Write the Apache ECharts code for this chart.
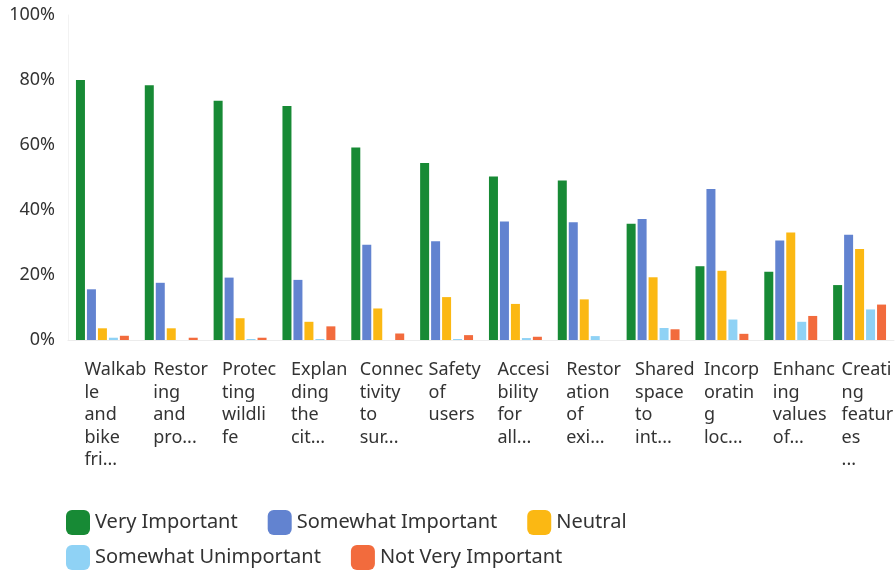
<!DOCTYPE html>
<html>
<head>
<meta charset="utf-8">
<script src="https://cdn.jsdelivr.net/npm/echarts@6/dist/echarts.min.js"></script>
<style>html,body{margin:0;padding:0;background:#fff;}#c{width:896px;height:570px;}</style>
</head>
<body>
<div id="c"></div>
<script>
var categories = [
  "Walkab\nle\nand\nbike\nfri...",
  "Restor\ning\nand\npro...",
  "Protec\nting\nwildli\nfe",
  "Explan\nding\nthe\ncit...",
  "Connec\ntivity\nto\nsur...",
  "Safety\nof\nusers",
  "Accesi\nbility\nfor\nall...",
  "Restor\nation\nof\nexi...",
  "Shared\nspace\nto\nint...",
  "Incorp\noratin\ng\nloc...",
  "Enhanc\ning\nvalues\nof...",
  "Creati\nng\nfeatur\nes\n..."
];
var seriesNames = ["Very Important", "Somewhat Important", "Neutral", "Somewhat Unimportant", "Not Very Important"];
var veryImportant       = [80, 78.4, 73.6, 72, 59.2, 54.5, 50.3, 49.1, 35.8, 22.7, 21, 16.9];
var somewhatImportant   = [15.6, 17.6, 19.2, 18.5, 29.3, 30.4, 36.5, 36.2, 37.2, 46.5, 30.6, 32.4];
var neutral             = [3.6, 3.6, 6.7, 5.6, 9.7, 13.2, 11.1, 12.5, 19.3, 21.3, 33.1, 28];
var somewhatUnimportant = [0.7, 0, 0.3, 0.3, 0, 0.3, 0.6, 1.2, 3.7, 6.3, 5.6, 9.4];
var notVeryImportant    = [1.3, 0.7, 0.7, 4.2, 2, 1.5, 1, 0, 3.3, 1.9, 7.4, 10.9];
var colors = ["#178a35", "#6283d0", "#fbb813", "#8fd2f5", "#f26b3d"];

var allData = [veryImportant, somewhatImportant, neutral, somewhatUnimportant, notVeryImportant];
var FONT = "Noto Sans";
var legendText = { fontSize: 20, color: '#333', fontFamily: FONT };
var chart = echarts.init(document.getElementById('c'));
chart.setOption({
  animation: false,
  color: colors,
  textStyle: { fontFamily: FONT },
  grid: { left: 68, right: 0, top: 15, bottom: 230, containLabel: false },
  legend: [
    { data: seriesNames.slice(0, 3), left: 61, top: 505, orient: 'horizontal',
      itemWidth: 24, itemHeight: 25, itemGap: 30, icon: 'roundRect', textStyle: legendText },
    { data: seriesNames.slice(3), left: 61, top: 540, orient: 'horizontal',
      itemWidth: 24, itemHeight: 25, itemGap: 30, icon: 'roundRect', textStyle: legendText }
  ],
  xAxis: {
    type: 'category',
    data: categories,
    axisTick: { show: false },
    axisLine: { show: true, lineStyle: { color: '#ececec' } },
    axisLabel: {
      interval: 0, align: 'left', margin: 19, padding: [0, 0, 0, -18],
      fontSize: 18, lineHeight: 22.5, color: '#333', fontFamily: FONT
    }
  },
  yAxis: {
    type: 'value', min: 0, max: 100, interval: 20,
    axisLine: { show: true, lineStyle: { color: '#f2f2f2' } },
    axisTick: { show: false },
    splitLine: { show: false },
    axisLabel: { formatter: '{value}%', fontSize: 18, color: '#333', margin: 13, fontFamily: FONT }
  },
  series: seriesNames.map(function (n, i) {
    return { name: n, type: 'bar', data: allData[i], barWidth: 9, barGap: '22%' };
  })
});
</script>
</body>
</html>
